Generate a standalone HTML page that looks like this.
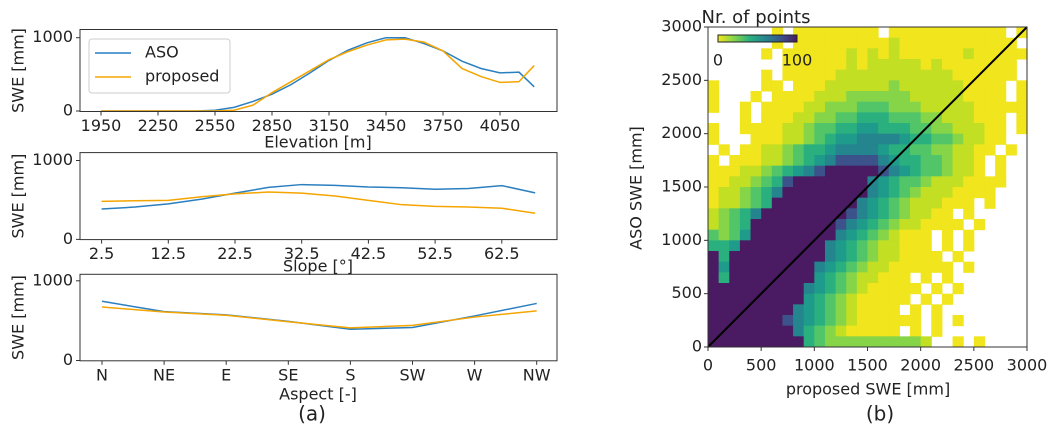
<!DOCTYPE html>
<html><head><meta charset="utf-8"><style>
body{margin:0;background:#fff;width:1058px;height:439px;overflow:hidden}
svg{display:block;font-family:"DejaVu Sans","Liberation Sans",sans-serif}
</style></head><body>
<svg id="fig" width="1058" height="439"></svg>
<script>
// ---- data ----
const elevX=[1950,2050,2150,2250,2350,2450,2550,2650,2750,2850,2950,3050,3150,3250,3350,3450,3550,3650,3750,3850,3950,4050,4150,4230];
const elevASO=[0,0,0,0,0,0,10,50,130,230,360,520,690,830,930,1000,1000,920,820,680,580,520,530,330];
const elevProp=[0,0,0,0,0,0,0,10,80,250,400,550,700,810,900,970,980,940,820,580,470,390,400,620];
const elevTicks=[1950,2250,2550,2850,3150,3450,3750,4050];
const slopeX=[2.5,7.5,12.5,17.5,22.5,27.5,32.5,37.5,42.5,47.5,52.5,57.5,62.5,67.5];
const slopeASO=[386,410,450,510,586,659,695,685,664,655,636,645,682,590];
const slopeProp=[482,490,495,540,577,600,586,550,495,440,418,410,395,332];
const slopeTicks=[2.5,12.5,22.5,32.5,42.5,52.5,62.5];
const aspectCats=["N","NE","E","SE","S","SW","W","NW"];
const aspectASO=[743,613,572,491,392,414,559,716];
const aspectProp=[671,608,568,486,410,441,545,622];
const hmTicks=[0,500,1000,1500,2000,2500,3000];
// density class per 100mm cell, rows from ASO 2900 (top) down to 0; '.' = empty
const hmRows=[
"......1.11111111.11111111111.1",
"......1.111111111211111111111.",
".....1.11111121212111111211111",
".......1111112122222121111111.",
".....1.1111122222222222111111.",
"1....11.11122222232222221111.1",
"1...1.1111222333333222221111.1",
"1..1.1111223334443332222211111",
"...1.11122334455544433222111.1",
"1..1111223445566555443322211.1",
"1...111223456677776554432211..",
".1.112234556777765544332211.1.",
"1.111223456788887655443221.1..",
"11122345678999998765443221.1..",
"1122345899999997654432221111..",
"122345799999999765432221111...",
"1223459999999976543222111.1...",
"23457999999998765432211.1.....",
"234599999999876543221111.1....",
"434699999999765432111.1.1.....",
"556999999997654322111.1.1.....",
"9599999999976543221111.1......",
"96999999997654322111111.1.....",
"9599999999654322111.1.1.......",
"99999999976543211111.1.1......",
"9999999996543211111.1.1.......",
"999999997654321111.1.1........",
"99999998765432111111.1.1......",
"999999997543211111.1.1........",
"999999999543333333332..1.1...."];
// ---- drawing ----
const NS="http://www.w3.org/2000/svg";
const svg=document.getElementById('fig');
function mk(tag,attrs,parent){const e=document.createElementNS(NS,tag);for(const k in attrs)e.setAttribute(k,attrs[k]);(parent||svg).appendChild(e);return e;}
function txt(s,x,y,size,anchor,parent,rot){const t=mk('text',{x:x,y:y,'font-size':size,'text-anchor':anchor||'middle',fill:'#222','dominant-baseline':'middle'},parent);if(rot)t.setAttribute('transform','rotate(-90 '+x+' '+y+')');t.textContent=s;return t;}
const ASOC="#2a7fc0",PROPC="#f5a500";

function lineChart(name,top,bot,y0,y1000,xs,xScale,series,ticks,tickLabels,xlabel,xlabelY){
  const g=mk('g',{});
  
  
  const L=80,R=557;
  const ys=v=>y0+(y1000-y0)*v/1000;
  series.forEach(s=>{
    const p=mk('polyline',{points:s.v.map((v,i)=>xScale(xs[i])+','+ys(v)).join(' '),fill:'none',stroke:s.c,'stroke-width':1.5},g);
    
    
  });
  mk('rect',{x:L,y:top,width:R-L,height:bot-top,fill:'none',stroke:'#333','stroke-width':1},g);
  [0,1000].forEach(v=>{mk('line',{x1:L-4,x2:L,y1:ys(v),y2:ys(v),stroke:'#333'},g);
    const t=txt(String(v),L-7,ys(v),16,'end',g);});
  ticks.forEach((tv,i)=>{const x=xScale(tv);mk('line',{x1:x,x2:x,y1:bot,y2:bot+4,stroke:'#333'},g);
    const t=txt(tickLabels[i],x,bot+15,16,'middle',g);});
  const xl=txt(xlabel,318,xlabelY,16,'middle',g);
  const yl=txt('SWE [mm]',19,(top+bot)/2,16,'middle',g,true);
  return g;
}
const eScale=v=>101+(v-1950)*0.19;
lineChart('elevation-chart',29.5,111.5,111,37.7,elevX,eScale,[{v:elevASO,c:ASOC,n:'aso-line'},{v:elevProp,c:PROPC,n:'proposed-line'}],elevTicks,elevTicks.map(String),'Elevation [m]',143);
const sScale=v=>101.6+(v-2.5)*6.67;
lineChart('slope-chart',152.6,239.6,239.4,160.5,slopeX,sScale,[{v:slopeASO,c:ASOC,n:'aso-line'},{v:slopeProp,c:PROPC,n:'proposed-line'}],slopeTicks,slopeTicks.map(String),'Slope [°]',267);
const aIdx=aspectCats.map((c,i)=>i);
const aScale=i=>102+i*62.1;
lineChart('aspect-chart',274.3,360.8,360.5,280.8,aIdx,aScale,[{v:aspectASO,c:ASOC,n:'aso-line'},{v:aspectProp,c:PROPC,n:'proposed-line'}],aIdx,aspectCats,'Aspect [-]',395);
// legend
const lg=mk('g',{});


mk('rect',{x:89,y:39,width:141,height:54,rx:3,fill:'#fff','fill-opacity':0.85,stroke:'#ccc'},lg);
mk('line',{x1:95,x2:131,y1:53,y2:53,stroke:ASOC,'stroke-width':1.5},lg);
mk('line',{x1:95,x2:131,y1:77,y2:77,stroke:PROPC,'stroke-width':1.5},lg);
let t=txt('ASO',145,53,16,'start',lg);
t=txt('proposed',145,77,16,'start',lg);
t=txt('(a)',312,415,20,'middle');

// heatmap
const HL=708,HR=1027,HT=27,HB=347;
const hx=v=>HL+(v/3000)*(HR-HL);
const hy=v=>HB-(v/3000)*(HB-HT);
const cols={'1':'#f1e51d','2':'#c2df23','3':'#86d549','4':'#52c569','5':'#2ab07f','6':'#1e9b8a','7':'#25858e','8':'#3b528b','9':'#4a1a62'};
const hg=mk('g',{});


hmRows.forEach((row,r)=>{
  const aso=(hmRows.length-1-r)*100;
  for(let c=0;c<30;c++){const ch=row[c];if(!ch||ch==='.')continue;
    const prop=c*100;
    const cell=mk('rect',{x:hx(prop),y:hy(aso+100),width:hx(prop+100)-hx(prop)+0.5,height:hy(aso)-hy(aso+100)+0.5,fill:cols[ch]},hg);
    
    
  }
});
const diag=mk('line',{x1:hx(0),y1:hy(0),x2:hx(3000),y2:hy(3000),stroke:'#000','stroke-width':2});


mk('rect',{x:HL,y:HT,width:HR-HL,height:HB-HT,fill:'none',stroke:'#333'});
hmTicks.forEach(v=>{
  mk('line',{x1:hx(v),x2:hx(v),y1:HB,y2:HB+4,stroke:'#333'});
  let a=txt(String(v),hx(v),HB+19,16,'middle');
  mk('line',{x1:HL-4,x2:HL,y1:hy(v),y2:hy(v),stroke:'#333'});
  a=txt(String(v),HL-6,hy(v),16,'end');
});
t=txt('proposed SWE [mm]',868,390,16,'middle');
t=txt('ASO SWE [mm]',637,188,16,'middle',svg,true);
t=txt('(b)',880,415,20,'middle');
// colorbar
const defs=mk('defs',{});
const gr=mk('linearGradient',{id:'cb',x1:0,x2:1,y1:0,y2:0},defs);
['#f1e51d','#86d549','#2ab07f','#25858e','#3b528b','#4a1a62'].forEach((c,i)=>mk('stop',{offset:i/5,'stop-color':c},gr));
const cb=mk('rect',{x:718,y:35,width:79,height:7,fill:'url(#cb)',stroke:'#222','stroke-width':1});


t=txt('Nr. of points',756,18,18,'middle');
t=txt('0',718,61,16,'middle');
t=txt('100',797,61,16,'middle');
</script>
</body></html>
